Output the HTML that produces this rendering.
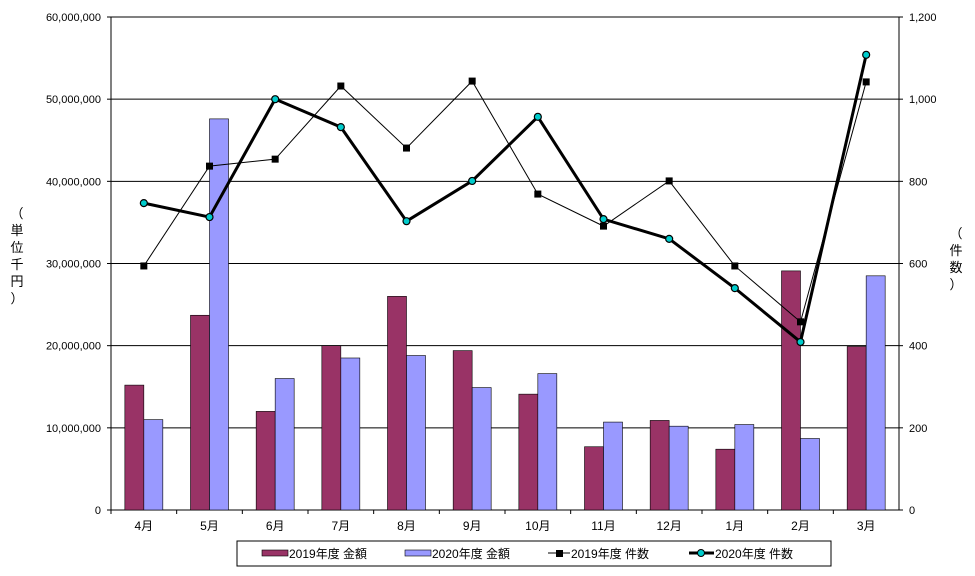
<!DOCTYPE html>
<html><head><meta charset="utf-8"><style>
body{margin:0;background:#fff;}
svg{font-family:"Liberation Sans","Noto Sans CJK JP",sans-serif;}
</style></head><body>
<svg id="c" width="975" height="571" xmlns="http://www.w3.org/2000/svg"></svg>
<script>
const categories=["4月","5月","6月","7月","8月","9月","10月","11月","12月","1月","2月","3月"];
const amount2019=[15.2,23.7,12.0,20.0,26.0,19.4,14.1,7.7,10.9,7.4,29.1,19.9];
const amount2020=[11.0,47.6,16.0,18.5,18.8,14.9,16.6,10.7,10.2,10.4,8.7,28.5];
const count2019=[594,837,854,1032,881,1044,769,691,801,594,458,1042];
const count2020=[747,713,1000,932,703,801,957,708,660,540,409,1108];
const leftTicks=["0","10,000,000","20,000,000","30,000,000","40,000,000","50,000,000","60,000,000"];
const rightTicks=["0","200","400","600","800","1,000","1,200"];

const svg=document.getElementById('c');
const NS="http://www.w3.org/2000/svg";
const L=111,R=899,T=17,B=510;
const yL=v=>B-(v/60)*(B-T);
const yR=v=>B-(v/1200)*(B-T);
const band=(R-L)/categories.length;
const xc=i=>L+band*(i+0.5);
function mk(tag,attrs,name,text){const e=document.createElementNS(NS,tag);for(const k in attrs)e.setAttribute(k,attrs[k]);


if(text!==undefined)e.textContent=text;svg.appendChild(e);return e;}

for(let i=0;i<leftTicks.length;i++){const y=B-i*(B-T)/6;
 if(i>0)mk('line',{x1:L,x2:R,y1:y,y2:y,stroke:'#000','stroke-width':1},'gridline');
 mk('text',{x:L-10,y:y+4,'text-anchor':'end','font-size':11},'left-tick-label',leftTicks[i]);
 mk('text',{x:R+10,y:y+4,'text-anchor':'start','font-size':11},'right-tick-label',rightTicks[i]);
 mk('line',{x1:L-4,x2:L,y1:y,y2:y,stroke:'#000'},'left-tick');
 mk('line',{x1:R,x2:R+4,y1:y,y2:y,stroke:'#000'},'right-tick');
}
mk('rect',{x:L,y:T,width:R-L,height:B-T,fill:'none',stroke:'#000'},'plot-border');
const bw=19;
categories.forEach((c,i)=>{
 mk('rect',{x:xc(i)-bw,y:yL(amount2019[i]),width:bw,height:B-yL(amount2019[i]),fill:'#993366',stroke:'#000','stroke-width':0.6},'bar-2019-amount');
 mk('rect',{x:xc(i),y:yL(amount2020[i]),width:bw,height:B-yL(amount2020[i]),fill:'#9999ff',stroke:'#000','stroke-width':0.6},'bar-2020-amount');
 mk('text',{x:xc(i),y:B+20,'text-anchor':'middle','font-size':12},'x-tick-label',c);
 mk('line',{x1:L+band*i,x2:L+band*i,y1:B,y2:B+4,stroke:'#000'},'x-tick');
});
mk('polyline',{points:count2019.map((v,i)=>xc(i)+','+yR(v)).join(' '),fill:'none',stroke:'#000','stroke-width':1},'line-2019-count');
count2019.forEach((v,i)=>mk('rect',{x:xc(i)-3.5,y:yR(v)-3.5,width:7,height:7,fill:'#000'},'point-2019-count'));
mk('polyline',{points:count2020.map((v,i)=>xc(i)+','+yR(v)).join(' '),fill:'none',stroke:'#000','stroke-width':3},'line-2020-count');
count2020.forEach((v,i)=>mk('circle',{cx:xc(i),cy:yR(v),r:3.5,fill:'#00cccc',stroke:'#000','stroke-width':1.2},'point-2020-count'));

// axis titles
['（','単','位','千','円','）'].forEach((ch,i)=>mk('text',{x:17,y:218+i*17,'text-anchor':'middle','font-size':13},'left-axis-title',ch));
['（','件','数','）'].forEach((ch,i)=>mk('text',{x:956,y:238+i*17,'text-anchor':'middle','font-size':13},'right-axis-title',ch));

// legend
mk('rect',{x:237,y:541,width:594,height:25,fill:'#fff',stroke:'#000'},'legend-box');
mk('rect',{x:262,y:550,width:26,height:6,fill:'#993366',stroke:'#000','stroke-width':0.6},'legend-swatch-2019-amount');
mk('text',{x:289,y:558,'font-size':12},'legend-label-2019-amount','2019年度 金額');
mk('rect',{x:405,y:550,width:26,height:6,fill:'#9999ff',stroke:'#000','stroke-width':0.6},'legend-swatch-2020-amount');
mk('text',{x:432,y:558,'font-size':12},'legend-label-2020-amount','2020年度 金額');
mk('line',{x1:548,x2:570,y1:553,y2:553,stroke:'#000'},'legend-line-2019-count');
mk('rect',{x:556,y:550,width:7,height:7,fill:'#000'},'legend-marker-2019-count');
mk('text',{x:571,y:558,'font-size':12},'legend-label-2019-count','2019年度 件数');
mk('line',{x1:689,x2:714,y1:553,y2:553,stroke:'#000','stroke-width':3},'legend-line-2020-count');
mk('circle',{cx:701,cy:553,r:3.5,fill:'#00cccc',stroke:'#000'},'legend-marker-2020-count');
mk('text',{x:715,y:558,'font-size':12},'legend-label-2020-count','2020年度 件数');
</script>
</body></html>
